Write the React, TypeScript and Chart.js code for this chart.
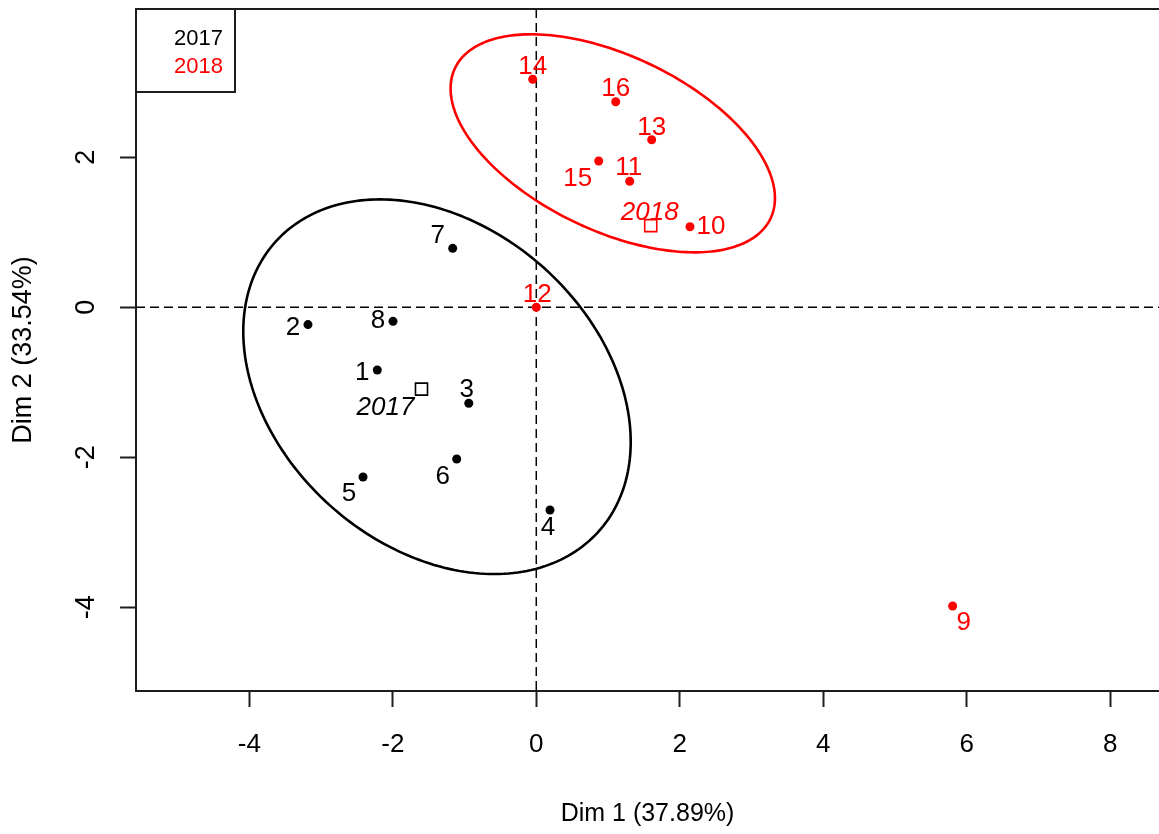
import React, { useEffect, useRef } from 'react';
import { Chart, registerables } from 'chart.js';

Chart.register(...registerables);

// ---------- data ----------
const groups = ['2017', '2018'];
const groupColors = ['#000000', '#FF0000'];

const names2017 = ['1', '2', '3', '4', '5', '6', '7', '8'];
const dim1_2017 = [-2.216, -3.182, -0.941, 0.191, -2.415, -1.109, -1.165, -1.997];
const dim2_2017 = [-0.837, -0.232, -1.281, -2.704, -2.264, -2.024, 0.785, -0.188];

const names2018 = ['9', '10', '11', '12', '13', '14', '15', '16'];
const dim1_2018 = [5.803, 2.142, 1.302, 0.0, 1.608, -0.05, 0.87, 1.107];
const dim2_2018 = [-3.984, 1.073, 1.679, 0.0, 2.233, 3.039, 1.949, 2.74];

const centroidDim1 = [-1.6, 1.595];
const centroidDim2 = [-1.092, 1.088];

// confidence ellipses (data units): centre, semi-axes, rotation
const ellipseCx = [-1.384, 1.066];
const ellipseCy = [-1.06, 2.185];
const ellipseA = [2.97, 2.417];
const ellipseB = [2.17, 1.175];
const ellipseAngleDeg = [-37.6, -23.9];

const xTicks = [-4, -2, 0, 2, 4, 6, 8];
const yTicks = [-4, -2, 0, 2];
const xTitle = 'Dim 1 (37.89%)';
const yTitle = 'Dim 2 (33.54%)';

// ---------- label placement (pixel offsets from each mark) ----------
const labelDx2017 = [-15, -15, -2, -2, -14, -14, -15, -15];
const labelDy2017 = [3, 3, -13, 18, 17, 18, -13, 0];
const labelDx2018 = [11, 21, -1, 1, 0, 0, -21, 0];
const labelDy2018 = [17, 0, -13, -12, -12, -12, 18, -13];
const centroidLabelDx = [-36, -1];
const centroidLabelDy = [19, -13];

const FONT = '"Liberation Sans", Arial, sans-serif';
const AXIS_COLOR = '#1e1e1e';

const overlayPlugin = {
  id: 'overlay',
  beforeDatasetsDraw(chart: any) {
    const { ctx, chartArea, scales } = chart;
    const xs = scales.x;
    const ys = scales.y;
    ctx.save();
    ctx.beginPath();
    ctx.rect(chartArea.left, chartArea.top, chartArea.right - chartArea.left, chartArea.bottom - chartArea.top);
    ctx.clip();
    // dashed reference lines
    ctx.strokeStyle = '#000';
    ctx.lineWidth = 1.5;
    ctx.setLineDash([9, 5]);
    const x0 = xs.getPixelForValue(0);
    const y0 = ys.getPixelForValue(0);
    ctx.beginPath();
    ctx.moveTo(x0, chartArea.top);
    ctx.lineTo(x0, chartArea.bottom);
    ctx.moveTo(chartArea.left, y0);
    ctx.lineTo(chartArea.right, y0);
    ctx.stroke();
    ctx.setLineDash([]);
    // ellipses
    for (let g = 0; g < groups.length; g++) {
      const th = (ellipseAngleDeg[g] * Math.PI) / 180;
      ctx.strokeStyle = groupColors[g];
      ctx.lineWidth = 2.6;
      ctx.beginPath();
      const n = 240;
      for (let i = 0; i <= n; i++) {
        const t = (i / n) * Math.PI * 2;
        const u = ellipseA[g] * Math.cos(t);
        const v = ellipseB[g] * Math.sin(t);
        const dx = ellipseCx[g] + u * Math.cos(th) - v * Math.sin(th);
        const dy = ellipseCy[g] + u * Math.sin(th) + v * Math.cos(th);
        const px = xs.getPixelForValue(dx);
        const py = ys.getPixelForValue(dy);
        if (i === 0) ctx.moveTo(px, py);
        else ctx.lineTo(px, py);
      }
      ctx.closePath();
      ctx.stroke();
    }
    ctx.restore();
  },
  afterDatasetsDraw(chart: any) {
    const { ctx, chartArea } = chart;
    ctx.save();
    ctx.textAlign = 'center';
    ctx.textBaseline = 'middle';
    ctx.font = `26px ${FONT}`;
    const labelSets = [
      { names: names2017, dx: labelDx2017, dy: labelDy2017 },
      { names: names2018, dx: labelDx2018, dy: labelDy2018 },
    ];
    for (let g = 0; g < 2; g++) {
      const meta = chart.getDatasetMeta(g);
      ctx.fillStyle = groupColors[g];
      meta.data.forEach((el: any, i: number) => {
        ctx.fillText(labelSets[g].names[i], el.x + labelSets[g].dx[i], el.y + labelSets[g].dy[i]);
      });
    }
    const cMeta = chart.getDatasetMeta(2);
    ctx.font = `italic 26px ${FONT}`;
    cMeta.data.forEach((el: any, i: number) => {
      ctx.fillStyle = groupColors[i];
      ctx.fillText(groups[i], el.x + centroidLabelDx[i], el.y + centroidLabelDy[i]);
    });

    // top border of the plotting box
    ctx.strokeStyle = AXIS_COLOR;
    ctx.lineWidth = 2;
    ctx.beginPath();
    ctx.moveTo(chartArea.left, chartArea.top);
    ctx.lineTo(chart.width, chartArea.top);
    ctx.stroke();

    // legend box
    const lx = chartArea.left;
    const ly = chartArea.top;
    ctx.strokeStyle = AXIS_COLOR;
    ctx.lineWidth = 2;
    ctx.strokeRect(lx, ly, 99, 83);
    ctx.font = `22px ${FONT}`;
    ctx.textAlign = 'right';
    groups.forEach((g, i) => {
      ctx.fillStyle = groupColors[i];
      ctx.fillText(g, lx + 87, ly + 30 + i * 28);
    });
    ctx.restore();
  },
};

export default function App() {
  const canvasRef = useRef<HTMLCanvasElement | null>(null);

  useEffect(() => {
    if (!canvasRef.current) return;
    const chart = new Chart(canvasRef.current, {
      type: 'scatter',
      data: {
        datasets: [
          {
            label: groups[0],
            data: dim1_2017.map((x, i) => ({ x, y: dim2_2017[i] })),
            backgroundColor: groupColors[0],
            borderColor: groupColors[0],
            pointRadius: 4.5,
            pointBorderWidth: 0,
          },
          {
            label: groups[1],
            data: dim1_2018.map((x, i) => ({ x, y: dim2_2018[i] })),
            backgroundColor: groupColors[1],
            borderColor: groupColors[1],
            pointRadius: 4.5,
            pointBorderWidth: 0,
          },
          {
            label: 'centroids',
            data: centroidDim1.map((x, i) => ({ x, y: centroidDim2[i] })),
            pointStyle: 'rect',
            pointRadius: 8.5,
            pointBorderWidth: 1.6,
            backgroundColor: 'rgba(0,0,0,0)',
            pointBorderColor: groupColors,
            borderColor: groupColors,
          } as any,
        ],
      },
      options: {
        animation: false,
        responsive: false,
        devicePixelRatio: 1,
        layout: { autoPadding: false, padding: { top: 9, right: 0, left: 0, bottom: 0 } },
        plugins: {
          legend: { display: false },
          tooltip: { enabled: false },
        },
        scales: {
          x: {
            type: 'linear',
            min: -5.579,
            max: 8.679,
            afterBuildTicks: (scale: any) => {
              scale.ticks = xTicks.map((v) => ({ value: v }));
            },
            afterFit: (scale: any) => {
              scale.height = 143;
              scale.paddingLeft = 0;
              scale.paddingRight = 0;
              scale.paddingTop = 0;
              scale.paddingBottom = 0;
            },
            grid: {
              display: true,
              drawOnChartArea: false,
              drawTicks: true,
              tickLength: 16,
              tickWidth: 2,
              tickColor: AXIS_COLOR,
            },
            border: { display: true, color: AXIS_COLOR, width: 2 },
            ticks: {
              color: '#000',
              font: { family: FONT, size: 26 },
              padding: 22,
              maxRotation: 0,
              minRotation: 0,
              callback: (v: any) => String(v),
            },
            title: {
              display: true,
              text: xTitle,
              color: '#000',
              font: { family: FONT, size: 25 },
              padding: { top: 0, bottom: 5 },
            },
          },
          y: {
            type: 'linear',
            min: -5.117,
            max: 3.976,
            afterBuildTicks: (scale: any) => {
              scale.ticks = yTicks.map((v) => ({ value: v }));
            },
            afterFit: (scale: any) => {
              scale.width = 136;
              scale.paddingLeft = 0;
              scale.paddingRight = 0;
              scale.paddingTop = 0;
              scale.paddingBottom = 0;
            },
            grid: {
              display: true,
              drawOnChartArea: false,
              drawTicks: true,
              tickLength: 16,
              tickWidth: 2,
              tickColor: AXIS_COLOR,
            },
            border: { display: true, color: AXIS_COLOR, width: 2 },
            ticks: {
              color: '#000',
              font: { family: FONT, size: 27 },
              padding: 21,
              minRotation: 90,
              maxRotation: 90,
              crossAlign: 'center',
              callback: (v: any) => String(v),
            },
            title: {
              display: true,
              text: yTitle,
              color: '#000',
              font: { family: FONT, size: 27 },
              padding: { top: 7, bottom: 0 },
            },
          },
        },
      },
      plugins: [overlayPlugin],
    } as any);
    return () => chart.destroy();
  }, []);

  return (
    <div style={{ position: 'fixed', left: 0, top: 0, width: 1159, height: 834, background: '#fff' }}>
      <canvas ref={canvasRef} width={1159} height={834} style={{ display: 'block', width: 1159, height: 834 }} />
    </div>
  );
}
